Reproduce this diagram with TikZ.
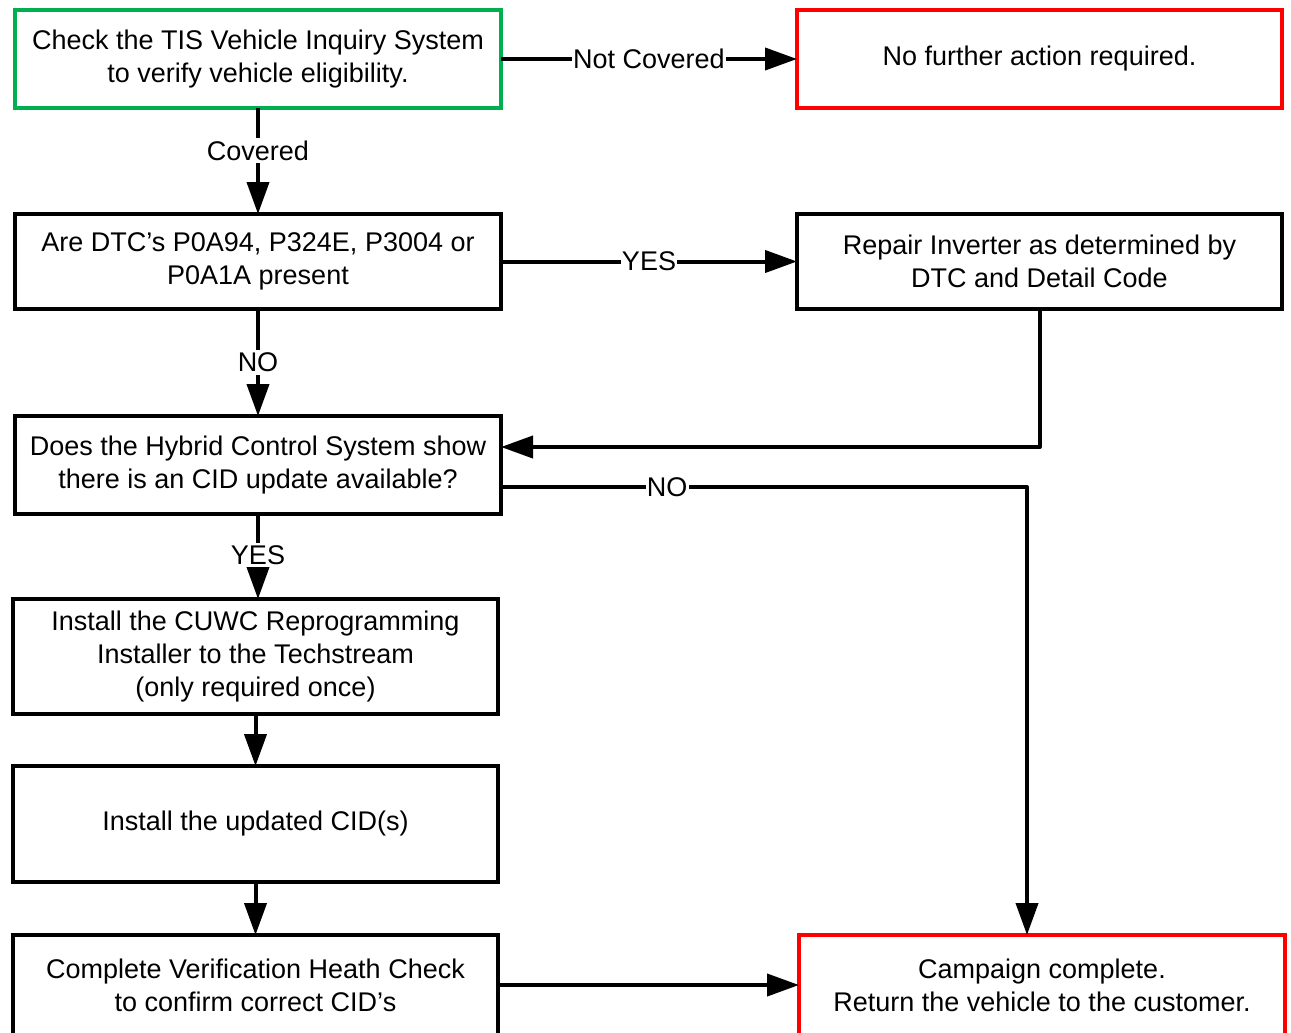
\documentclass[tikz,border=0pt]{standalone}
\usepackage{fontspec}
\setmainfont{Liberation Sans}
\usetikzlibrary{arrows.meta,calc}
\newdimen\px \px=0.75pt
\definecolor{okgreen}{RGB}{0,176,80}
\definecolor{okred}{RGB}{255,0,0}
\begin{document}
\begin{tikzpicture}[x=0.75pt,y=-0.75pt,
  box/.style={draw=black,line width=3pt,rectangle,inner sep=0pt,outer sep=0pt,align=center,
    font=\fontsize{20.25pt}{24.75pt}\selectfont},
  gbox/.style={box,draw=okgreen},
  rbox/.style={box,draw=okred},
  conn/.style={line width=3pt,line join=round,-{Triangle[length=24pt,width=16.5pt]}},
  lbl/.style={fill=white,inner xsep=1pt,inner ysep=2pt,font=\fontsize{20.25pt}{24.75pt}\selectfont}]
\clip (0,0) rectangle (1291,1032);
\fill[white] (0,0) rectangle (1291,1032);

\node[gbox,minimum width=486\px,minimum height=98\px] (b1) at (258,59)
  {Check the TIS Vehicle Inquiry System\\to verify vehicle eligibility.};
\node[rbox,minimum width=485\px,minimum height=98\px] (r1) at (1039.5,59)
  {No further action required.};
\node[box,minimum width=486\px,minimum height=95\px] (b2) at (258,261.5)
  {Are DTC’s P0A94, P324E, P3004 or\\P0A1A present};
\node[box,minimum width=485\px,minimum height=95\px] (rep) at (1039.5,261.5)
  {Repair Inverter as determined by\\DTC and Detail Code};
\node[box,minimum width=486\px,minimum height=98\px] (b3) at (258,465)
  {Does the Hybrid Control System show\\there is an CID update available?};
\node[box,minimum width=485\px,minimum height=115\px] (b4) at (255.5,656.5)
  {Install the CUWC Reprogramming\\Installer to the Techstream\\(only required once)};
\node[box,minimum width=485\px,minimum height=116\px] (b5) at (255.5,824)
  {Install the updated CID(s)};
\node[box,minimum width=485\px,minimum height=100\px] (b6) at (255.5,985)
  {Complete Verification Heath Check\\to confirm correct CID’s};
\node[rbox,minimum width=486\px,minimum height=100\px] (r2) at (1042,985)
  {Campaign complete.\\Return the vehicle to the customer.};

\coordinate (j1) at ($(b3.east)+(0,-18)$);
\coordinate (j2) at ($(b3.east)+(0,22)$);
\coordinate (j3) at ($(r2.north)+(-15,0)$);
\coordinate (j4) at (j2 -| j3);

\draw[conn] (b1.east) -- (r1.west);
\draw[conn] (b1.south) -- (b2.north);
\draw[conn] (b2.east) -- (rep.west);
\draw[conn] (b2.south) -- (b3.north);
\draw[conn] (rep.south) |- (j1);
\draw[conn] (j2) -- (j4) -- (j3);
\draw[conn] (b3.south) -- (b3.south |- b4.north);
\draw[conn] (b4.south) -- (b5.north);
\draw[conn] (b5.south) -- (b6.north);
\draw[conn] (b6.east) -- (r2.west);

\node[lbl] (l1) at ($(b1.east)!0.5!(r1.west)$) {Not Covered};
\node[lbl] (l2) at ($(b1.south)!0.4!(b2.north)$) {Covered};
\node[lbl] (l3) at ($(b2.east)!0.5!(rep.west)$) {YES};
\node[lbl] (l4) at ($(b2.south)!0.5!(b3.north)$) {NO};
\node[lbl] (l5) at ($(j2)!0.316!(j4)$) {NO};
\node[lbl] (l6) at ($(b3.south)+(0,41)$) {YES};
\end{tikzpicture}
\end{document}
